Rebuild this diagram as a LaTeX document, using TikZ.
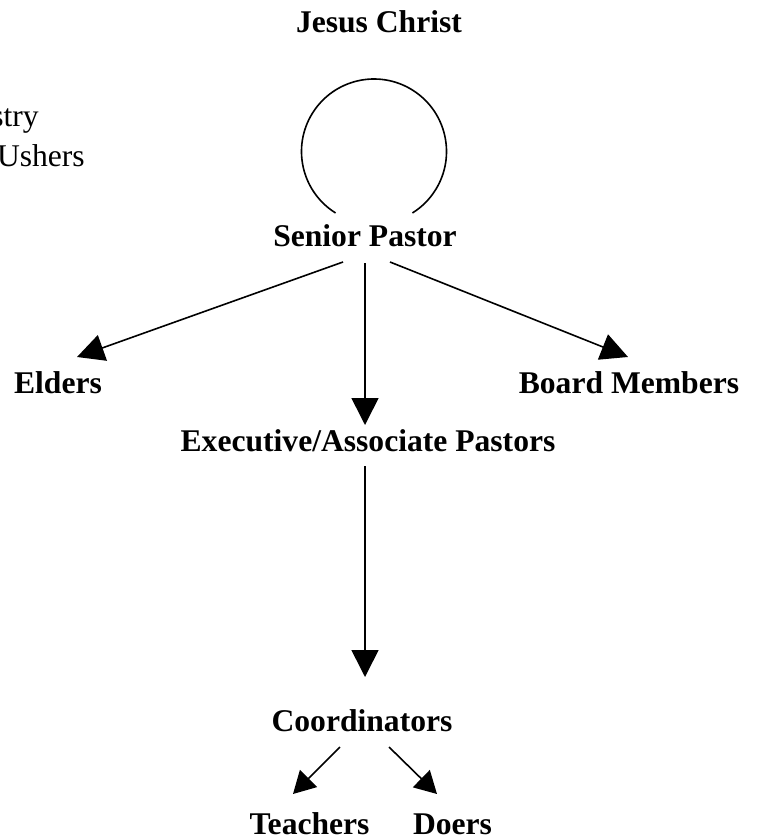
\documentclass[tikz,border=0pt]{standalone}
\usepackage{fontspec}
\setmainfont{Liberation Serif}
\usetikzlibrary{arrows.meta}
\tikzset{
  lbl/.style={font=\fontsize{31.6}{36}\selectfont\bfseries, inner sep=0pt, anchor=base},
  plain/.style={font=\fontsize{31.6}{36}\selectfont, inner sep=0pt, anchor=base east},
  bigarrow/.style={line width=1.6pt, -{Triangle[length=27pt,width=27pt]}},
  smallarrow/.style={line width=1.6pt, -{Triangle[length=22pt,width=24pt]}}
}
\begin{document}
\begin{tikzpicture}[x=1pt,y=-1pt]
\useasboundingbox (0,0) rectangle (757,840);
% texts
\node[lbl] (jc) at (379,33) {Jesus Christ};
\node[lbl] (sp) at (365,246) {Senior Pastor};
\node[lbl] (el) at (58,393) {Elders};
\node[lbl] (bm) at (629,393) {Board Members};
\node[lbl] (ex) at (368,451) {Executive/Associate Pastors};
\node[lbl] (co) at (362,731) {Coordinators};
\node[lbl] (te) at (309.5,834) {Teachers};
\node[lbl] (do) at (452.5,834) {Doers};
\node[plain] (mi) at (39,127) {stry};
\node[plain] (us) at (85,166) {Ushers};
% circle (open at bottom)
\coordinate (cc) at (374,151.5);
\draw[line width=1.6pt] (cc) ++(122:72.5) arc[start angle=122, end angle=418, radius=72.5];
% connector end points
\coordinate (spL) at (343,262);
\coordinate (spR) at (390,262);
\coordinate (spB) at (365,263);
\coordinate (elT) at (77,357);
\coordinate (bmT) at (628,357);
\coordinate (exT) at (365,425);
\coordinate (exB) at (365,466);
\coordinate (coT) at (365,677);
\coordinate (coL) at (340,747);
\coordinate (coR) at (389,747);
\coordinate (teT) at (293,794);
\coordinate (doT) at (437,794);
\draw[bigarrow] (spL) -- (elT);
\draw[bigarrow] (spR) -- (bmT);
\draw[bigarrow] (spB) -- (exT);
\draw[bigarrow] (exB) -- (coT);
\draw[smallarrow] (coL) -- (teT);
\draw[smallarrow] (coR) -- (doT);
\end{tikzpicture}
\end{document}
